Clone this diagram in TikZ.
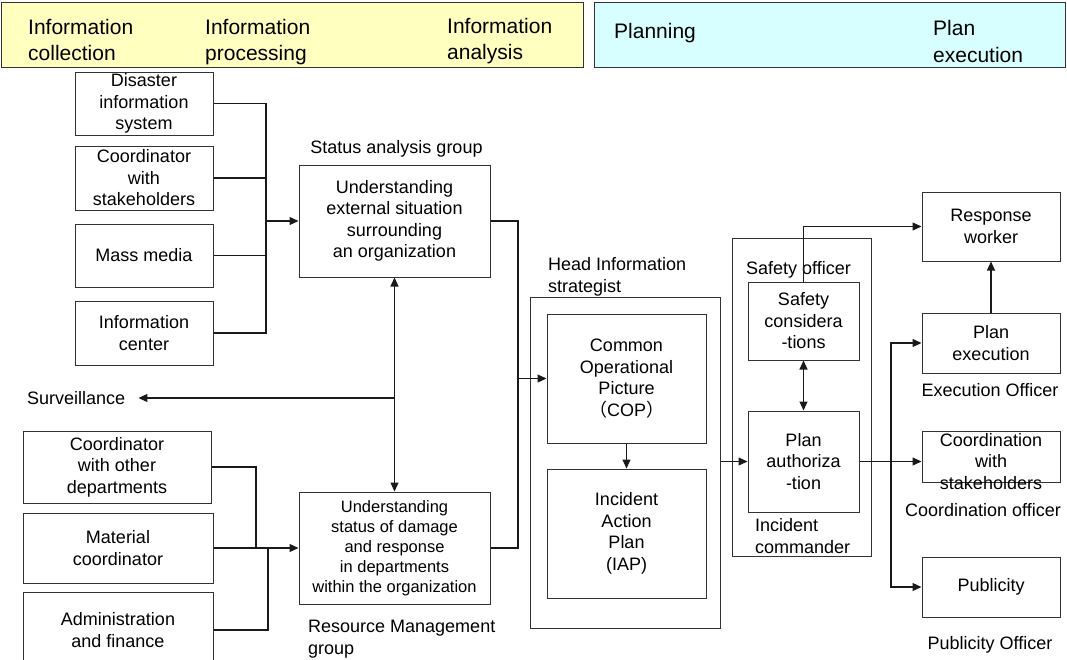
\documentclass[tikz,border=0pt]{standalone}
\usepackage{fontspec}
\setmainfont{Liberation Sans}
\newfontfamily\cjkfont{Noto Sans CJK JP}
\usetikzlibrary{arrows.meta}
\definecolor{phaseA}{HTML}{FFFFC0}
\definecolor{phaseB}{HTML}{D8FFFF}
\definecolor{ink}{HTML}{1A1A1A}
\definecolor{frame}{HTML}{333333}
\tikzset{
  box/.style 2 args={draw=frame, line width=1pt, inner sep=0pt,
    minimum width=#1, minimum height=#2},
  bar/.style 2 args={draw=frame, line width=1pt, inner sep=0pt,
    minimum width=#1, minimum height=#2},
  boxtxt/.style={font=\fontsize{18}{21.5}\selectfont, align=center, inner sep=0pt},
  smalltxt/.style={font=\fontsize{16.5}{20}\selectfont, align=center, inner sep=0pt},
  caption/.style={font=\fontsize{18}{22}\selectfont, align=left, inner sep=0pt},
  bartxt/.style={font=\fontsize{21}{26}\selectfont, align=left, inner sep=0pt,
    anchor=north west},
  wire/.style={draw=ink, line width=1.1pt},
  arr/.style={wire, -{Triangle[length=9pt,width=8pt]}},
  darr/.style={wire, {Triangle[length=9pt,width=8pt]}-{Triangle[length=9pt,width=8pt]}},
}
\begin{document}
\begin{tikzpicture}[x=1pt,y=-1pt]
\clip (0,0) rectangle (1067,659);

% phase bars
\node[bar={582pt}{65pt}, fill=phaseA] (infobar) at (292,34.5) {};
\node[bar={471pt}{65pt}, fill=phaseB] (planbar) at (829.5,34.5) {};
\node[bartxt] (tcol) at (28,18.7) {Information\\collection};
\node[bartxt] (tproc) at (205,18.7) {Information\\processing};
\node[bartxt] (tana) at (447,17.7) {Information\\analysis};
\node[bartxt, anchor=base west] (tplan) at (614,38) {Planning};
\node[bartxt, font=\fontsize{21}{27.5}\selectfont] (texec) at (933,20) {Plan\\execution};

% information sources (external)
\node[box={138pt}{63pt}, label={[boxtxt]center:Disaster\\information\\system}] (dis) at (144,103.5) {};
\node[box={138pt}{64pt}, label={[boxtxt]center:Coordinator\\with\\stakeholders}] (cws) at (144,178) {};
\node[box={138pt}{63pt}, label={[boxtxt]center:Mass media}] (mm) at (144,255.5) {};
\node[box={138pt}{64pt}, label={[boxtxt]center:Information\\center}] (ic) at (144,333) {};

% information sources (internal)
\node[box={188pt}{72pt}, label={[boxtxt]center:Coordinator\\with other\\departments}] (cod) at (117,467) {};
\node[box={190pt}{70pt}, label={[boxtxt]center:Material\\coordinator}] (mat) at (118,548) {};
\node[box={190pt}{76pt}, label={[boxtxt]center:Administration\\and finance}] (adm) at (118,630) {};

% processing groups
\node[box={191pt}{112pt}, label={[boxtxt]center:Understanding\\external situation\\surrounding\\an organization}] (status) at (394.5,221) {};
\node[box={191pt}{112pt}, label={[smalltxt]center:Understanding\\status of damage\\and response\\in departments\\within the organization}] (resource) at (394.5,548) {};
\node[caption, anchor=base] (statuslbl) at (396.5,153.5) {Status analysis group};
\node[caption, anchor=north west] (reslbl) at (308,619.5) {Resource Management\\group};
\node[caption, anchor=west] (surv) at (27,398) {Surveillance};

% head information strategist
\node[box={190pt}{331pt}] (head) at (625,462.5) {};
\node[caption, anchor=north west] (headlbl) at (548,257.5) {Head Information\\strategist};
\node[box={159pt}{129pt}, label={[boxtxt]center:Common\\Operational\\Picture\\{\cjkfont （}COP{\cjkfont ）}}] (cop) at (626.5,378.5) {};
\node[box={159pt}{129pt}, label={[boxtxt]center:Incident\\Action\\Plan\\(IAP)}] (iap) at (626.5,533.5) {};

% incident commander
\node[box={139pt}{318pt}] (icbox) at (801.5,397) {};
\node[caption, anchor=north west] (safelbl) at (746,261.5) {Safety officer};
\node[caption, anchor=north west] (iclbl) at (755,518.5) {Incident\\commander};
\node[box={111pt}{78pt}, label={[boxtxt]center:Safety\\considera\\-tions}] (safety) at (803.5,321) {};
\node[box={111pt}{101pt}, label={[boxtxt]center:Plan\\authoriza\\-tion}] (plauth) at (803.5,461.5) {};

% execution
\node[box={138pt}{69pt}, label={[boxtxt]center:Response\\worker}] (resp) at (991,226.5) {};
\node[box={138pt}{60pt}, label={[boxtxt]center:Plan\\execution}] (pexec) at (991,343) {};
\node[box={138pt}{51pt}, label={[boxtxt, yshift=-5pt]center:Coordination\\with\\stakeholders}] (coord) at (991,456.5) {};
\node[box={138pt}{60pt}, label={[boxtxt]center:Publicity}] (pub) at (991,587) {};
\node[caption] (exlbl) at (990,390) {Execution Officer};
\node[caption] (colbl) at (983,510) {Coordination officer};
\node[caption, anchor=base] (publbl) at (990,649.5) {Publicity Officer};

% junction points
\coordinate (inbus) at (266,221);
\coordinate (rbA) at (256,548);
\coordinate (rbB) at (268,548);
\coordinate (rbus) at (518,378.5);
\coordinate (obus) at (891,461.5);
\coordinate (survj) at (394.5,398);

% collection -> status analysis
\draw[wire] (dis.east) -| (inbus);
\draw[wire] (cws.east) -| (inbus);
\draw[wire] (mm.east) -| (inbus);
\draw[wire] (ic.east) -| (inbus);
\draw[arr] (inbus) -- (status.west);

% collection -> resource management
\draw[wire] (cod.east) -| (rbA);
\draw[wire] (adm.east) -| (rbB);
\draw[arr] (mat.east) -- (resource.west);

% exchange between groups and surveillance
\draw[darr] (status.south) -- (resource.north);
\draw[arr] (survj) -- ([xshift=13pt]surv.east);

% groups -> common operational picture
\draw[wire] (status.east) -| (rbus);
\draw[wire] (resource.east) -| (rbus);
\draw[arr] (rbus) -- (cop.west);
\draw[arr] (cop.south) -- (iap.north);

% strategist -> incident commander
\draw[arr] (head.east |- plauth.west) -- (plauth.west);
\draw[darr] (safety.south) -- (plauth.north);
\draw[arr] (safety.north) |- (resp.west);

% incident commander -> officers
\draw[arr] (plauth.east) -- (plauth.east -| coord.west);
\draw[arr] (obus) |- (pexec.west);
\draw[arr] (obus) |- (pub.west);
\draw[arr] (pexec.north) -- (resp.south);
\end{tikzpicture}
\end{document}
